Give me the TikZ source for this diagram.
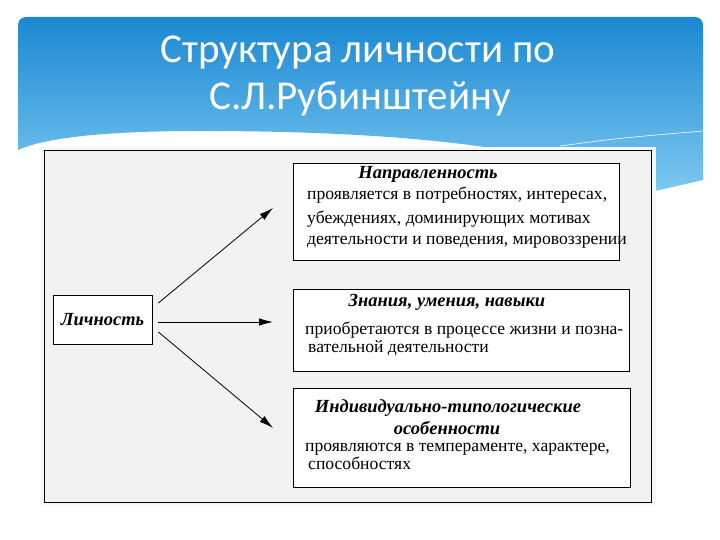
\documentclass[tikz,border=0pt]{standalone}
\usepackage{fontspec}
\setmainfont{Liberation Serif}
\newfontfamily\headfont{Carlito}
\usetikzlibrary{arrows.meta, positioning}
\definecolor{headtop}{HTML}{1A88D2}
\definecolor{headbot}{HTML}{7CC8F0}
\definecolor{panelgray}{HTML}{F2F2F2}

\tikzset{
  box/.style={draw, fill=white, line width=0.8pt, inner sep=0pt},
  boxtitle/.style={font=\fontsize{18.5}{20}\selectfont\bfseries\itshape, anchor=base, inner sep=0pt},
  boxtext/.style={font=\fontsize{17.6}{20}\selectfont, anchor=base west, inner sep=0pt},
  link/.style={-{Latex[length=14pt, width=7.5pt]}, line width=0.8pt},
}

\begin{document}
\begin{tikzpicture}[x=1pt, y=-1pt]
    \useasboundingbox (0,0) rectangle (720,540);

    % Header
    \shade[top color=headtop, bottom color=headbot] (18,150) [rounded corners=8pt] -- (18,17) -- (703,17) -- (703,60) [sharp corners] -- (703,180) -- (655,191)
        .. controls (560,150) and (420,131) .. (200,131) .. controls (90,131) and (40,140) .. (18,150) -- cycle;
    \draw[white, line width=0.6pt] (560,146) .. controls (620,138) .. (703,131);
    \node[font=\headfont\fontsize{41}{48}\selectfont, text=white, anchor=base] (head1) at (358,63) {Структура личности по};
    \node[font=\headfont\fontsize{41}{48}\selectfont, text=white, anchor=base] (head2) at (360,110) {С.Л.Рубинштейну};

    % Panel
    \fill[gray!6] (41,147) rectangle (656,506);
    \draw[fill=panelgray, line width=0.8pt] (44,150) rectangle (651,502);

    % Boxes
    \node[box, minimum width=99pt, minimum height=49pt, font=\fontsize{18.5}{20}\selectfont\bfseries\itshape] (lich) at (102.5,319.5) {Личность};
    \node[box, minimum width=326pt, minimum height=97pt] (napr) at (456,211.5) {};
    \node[box, minimum width=336pt, minimum height=82pt] (znan) at (461,330) {};
    \node[box, minimum width=337pt, minimum height=99pt] (osob) at (461.5,437.5) {};
    \draw[line width=1.6pt] (znan.north east) -- (znan.south east);

    % Texts
    \node[boxtitle] (naprtitle) at (428,179) {Направленность};
    \node[boxtext] (napr1) at (307,200) {проявляется в потребностях, интересах,};
    \node[boxtext] (napr2) at (307,223) {убеждениях, доминирующих мотивах};
    \node[boxtext] (napr3) at (307,244) {деятельности и поведения, мировоззрении};

    \node[boxtitle] (znantitle) at (447,306.5) {Знания, умения, навыки};
    \node[boxtext] (znan1) at (305,334) {приобретаются в процессе жизни и позна-};
    \node[boxtext] (znan2) at (308,352) {вательной деятельности};

    \node[boxtitle] (osobtitle1) at (448,412.5) {Индивидуально-типологические};
    \node[boxtitle] (osobtitle2) at (447,434) {особенности};
    \node[boxtext] (osob1) at (305,451) {проявляются в темпераменте, характере,};
    \node[boxtext] (osob2) at (308,469) {способностях};

    % Arrows
    \coordinate (tip1) at (273,208);
    \coordinate (tip2) at (273,322);
    \coordinate (tip3) at (273,428);
    \draw[link] ([xshift=6pt, yshift=16.5pt]lich.east) -- (tip1);
    \draw[link] ([xshift=6pt, yshift=-2.5pt]lich.east) -- (tip2);
    \draw[link] ([xshift=6pt, yshift=-12.5pt]lich.east) -- (tip3);
\end{tikzpicture}
\end{document}
